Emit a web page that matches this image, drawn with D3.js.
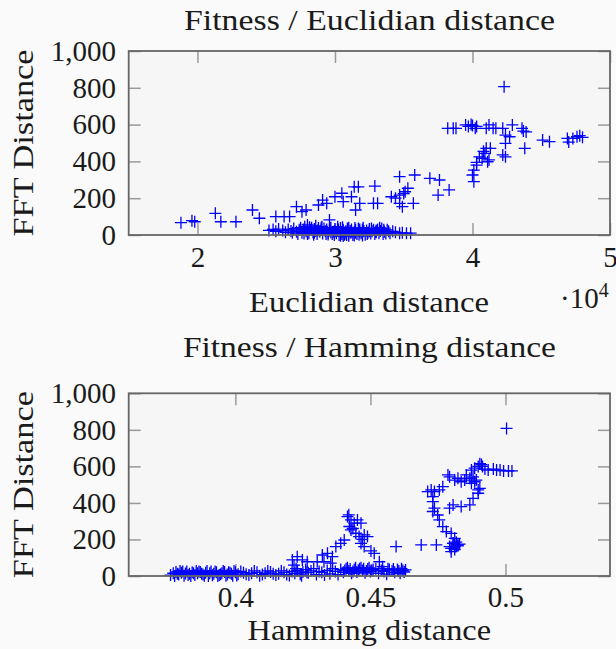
<!DOCTYPE html>
<html>
<head>
<meta charset="utf-8">
<script src="https://cdn.jsdelivr.net/npm/d3@7"></script>
<style>
body { margin: 0; background: #fafafa; }
text { font-family: "Liberation Serif", serif; fill: #1a1a1a; }
</style>
</head>
<body>
<script>
// ---- data ----
var eucTicksX = [2, 3, 4, 5];
var hamTicksX = [0.4, 0.45, 0.5];
var ticksY = [0, 200, 400, 600, 800, 1000];

// euclidian distance (x in units of 10^4), FFT distance
var eucPoints = [
  [1.88,67],[1.96,78],[1.98,72],[2.13,118],[2.17,72],[2.28,72],[2.40,136],[2.45,91],
  [2.57,100],[2.63,100],[2.67,100],[2.72,154],[2.76,127],[2.79,136],[2.88,163],[2.91,190],
  [2.94,172],[2.96,82],[3.00,208],[3.05,227],[3.06,181],[3.12,208],[3.14,262],[3.17,262],
  [3.18,172],[3.15,136],[3.29,266],[3.28,172],[3.31,172],[3.41,208],[3.47,217],[3.51,235],
  [3.53,254],[3.47,172],[3.49,154],[3.57,172],[3.47,317],[3.58,326],[3.69,308],[3.76,299],
  [3.75,217],[3.83,245],[3.50,225],[3.44,200],
  [3.82,580],[3.86,580],[3.88,580],[3.95,598],[3.97,590],[3.99,600],[4.00,595],[4.02,580],
  [4.03,590],[4.10,580],[4.12,598],[4.15,580],[4.17,580],[4.22,580],[4.29,598],[4.36,580],
  [4.37,565],[4.39,560],[4.23,806],
  [4.51,516],[4.56,507],[4.69,525],[4.70,505],[4.73,525],[4.76,534],[4.78,540],[4.80,531],
  [4.24,543],[4.27,534],[4.24,498],[4.22,435],[4.24,425],[4.38,471],
  [4.10,471],[4.13,471],[4.05,425],[4.07,417],[4.09,444],[4.11,398],[4.03,380],[4.01,353],
  [4.00,326],[4.01,290],[4.12,408],[4.03,395],[4.08,455],
  [2.52,25],[2.55,30],[2.57,20],[2.59,32],[2.62,25],[2.64,15],[2.66,30],[2.68,22],[2.70,35],
  [2.72,18],[2.74,28],[2.75,40],[2.76,12],[2.77,30],[2.78,45],[2.79,20],[2.80,35],[2.81,10],
  [2.82,28],[2.83,40],[2.84,15],[2.85,32],[2.86,22],[2.87,5],[2.88,38],[2.89,18],[2.90,28],
  [2.91,8],[2.92,35],[2.93,20],[2.94,30],[2.95,12],[2.96,25],[2.97,40],[2.98,5],[2.99,18],
  [3.00,32],[3.01,10],[3.02,25],[3.03,0],[3.04,38],[3.05,15],[3.06,28],[3.07,2],[3.08,20],
  [3.09,35],[3.10,8],[3.11,22],[3.12,30],[3.13,0],[3.14,15],[3.15,28],[3.16,5],[3.17,35],
  [3.18,18],[3.19,10],[3.20,30],[3.21,22],[3.22,2],[3.23,25],[3.24,12],[3.25,32],[3.26,8],
  [3.27,20],[3.28,28],[3.29,5],[3.30,15],[3.31,30],[3.32,10],[3.33,22],[3.34,35],[3.35,5],
  [3.36,18],[3.38,28],[3.40,10],[3.42,20],[3.44,15],[3.47,10],[3.49,12],[3.52,10],[3.55,10],
  [2.80,5],[2.85,12],[2.90,40],[2.95,3],[3.00,20],[3.05,5],[3.10,40],[3.15,12],[3.20,15],
  [3.25,20],[3.30,25],[3.02,45],[2.97,15],[3.12,18],[3.08,8],[3.18,30],[2.80,55],[2.86,50],
  [2.775,8],[2.815,42],[2.845,2],[2.875,25],[2.905,45],[2.935,6],[2.965,35],[2.995,0],
  [3.025,30],[3.055,42],[3.085,0],[3.115,12],[3.145,38],[3.175,2],[3.205,40],[3.235,5],
  [3.265,35],[3.295,18],[3.325,40],[3.355,28],[3.37,8],[3.39,20],[2.73,5],[2.69,12],
  [3.06,-5],[3.10,-4],[3.14,-3],[3.04,-4],[3.20,-3]
];

// hamming distance, FFT distance
var hamPoints = [
  [0.5004,808],
  [0.4874,580],[0.4886,590],[0.4899,600],[0.4911,610],[0.4924,585],[0.4936,580],[0.4955,585],
  [0.4967,580],[0.4980,580],[0.4993,575],[0.5011,575],[0.5024,575],[0.4905,615],[0.4915,600],
  [0.4855,553],[0.4868,535],[0.4880,543],[0.4892,525],[0.4874,507],[0.4886,516],[0.4905,480],
  [0.4899,453],[0.4849,525],[0.4836,516],[0.4824,535],[0.4812,525],[0.4793,543],[0.4787,553],
  [0.4768,489],[0.4755,471],[0.4737,462],[0.4725,471],[0.4712,462],[0.4731,435],[0.4731,407],
  [0.4737,371],[0.4731,353],[0.4749,334],[0.4755,307],[0.4768,270],[0.4781,243],[0.4799,233],
  [0.4812,206],[0.4806,179],[0.4793,161],[0.4799,151],[0.4824,170],[0.4799,133],
  [0.4793,371],[0.4806,389],[0.4836,380],[0.4868,389],[0.4880,425],[0.4899,471],
  [0.4595,161],[0.4688,170],[0.4744,170],
  [0.4806,179],[0.4812,160],[0.4818,170],[0.4824,165],[0.4812,145],[0.4830,175],[0.4818,185],
  [0.4415,325],[0.4428,307],[0.4440,289],[0.4422,271],[0.4452,307],[0.4465,289],[0.4428,252],
  [0.4446,234],[0.4477,225],[0.4458,216],[0.4489,216],[0.4465,179],[0.4477,161],[0.4502,137],
  [0.4514,124],[0.4533,78],[0.4545,51],[0.4420,335],[0.4435,260],[0.4470,200],
  [0.4211,88],[0.4229,106],[0.4248,88],[0.4266,78],[0.4303,78],[0.4322,115],[0.4341,124],
  [0.4359,106],[0.4372,161],[0.4390,179],[0.4403,197],[0.4353,70],[0.4328,78],[0.4217,60],
  [0.376,5],[0.377,15],[0.378,22],[0.379,8],[0.380,18],[0.381,2],[0.382,25],[0.383,12],
  [0.384,20],[0.385,5],[0.386,15],[0.387,22],[0.388,8],[0.389,18],[0.390,0],[0.391,25],
  [0.392,12],[0.393,20],[0.394,5],[0.395,15],[0.396,22],[0.397,8],[0.398,18],[0.399,2],
  [0.400,20],[0.401,10],[0.403,18],[0.405,5],[0.406,15],[0.408,20],[0.410,8],[0.411,15],
  [0.413,22],[0.415,5],[0.416,12],[0.418,20],[0.419,8],[0.421,25],[0.422,15],[0.423,30],
  [0.424,10],[0.425,22],[0.426,35],[0.427,18],[0.428,28],[0.430,8],[0.432,20],[0.434,30],
  [0.435,12],[0.437,25],[0.439,35],[0.440,20],[0.441,40],[0.442,28],[0.443,15],[0.444,35],
  [0.445,22],[0.446,40],[0.447,30],[0.448,18],[0.449,38],[0.450,25],[0.451,35],[0.453,15],
  [0.455,25],[0.456,10],[0.457,35],[0.458,28],[0.459,20],[0.460,35],[0.461,15],[0.462,30],
  [0.463,33],
  [0.3785,12],[0.3805,25],[0.3825,5],[0.3845,15],[0.3865,25],[0.3885,2],[0.3905,15],
  [0.3925,25],[0.3945,10],[0.3965,2],[0.3985,12],
  [0.3775,0],[0.3795,28],[0.3815,14],[0.3835,0],[0.3855,28],[0.3875,12],[0.3895,28],
  [0.3915,4],[0.3935,0],[0.3955,28],[0.3975,20],[0.3995,28],[0.4005,3],[0.402,25],
  [0.404,10],[0.407,28],[0.409,2],[0.412,28],[0.414,12],[0.417,28],[0.420,3],[0.4225,40],
  [0.4245,2],[0.4265,20],[0.429,40],[0.431,25],[0.433,5],[0.436,40],[0.438,8],[0.4405,30],
  [0.4415,45],[0.4425,38],[0.4435,25],[0.4445,45],[0.4455,32],[0.4465,45],[0.4475,40],
  [0.4485,28],[0.4495,45],[0.4505,30],[0.452,40],[0.454,30],[0.4565,40],[0.4585,38],
  [0.4605,28],[0.4615,40],[0.4625,22]
];

// ---- drawing ----
var W = 616, H = 649;
var svg = d3.select("body").append("svg")
    .attr("width", W)
    .attr("height", H);

var fmtY = d3.format(",");

function panel(opt) {
    var left = 128.7, right = 610;
    var w = right - left, h = opt.bottom - opt.top;

    var x = d3.scaleLinear().domain(opt.domainX).range([0, w]);
    var y = d3.scaleLinear().domain([0, 1000]).range([h, 0]);

    var g = svg.append("g")
        .attr("transform", "translate(" + left + "," + opt.top + ")");

    g.append("rect")
        .attr("width", w).attr("height", h)
        .attr("fill", "#f6f6f6");

    var xb = g.append("g").attr("transform", "translate(0," + h + ")")
        .call(d3.axisBottom(x).tickValues(opt.ticksX).tickSize(-12).tickFormat(opt.fmtX));
    var xt = g.append("g")
        .call(d3.axisTop(x).tickValues(opt.ticksX).tickSize(-12).tickFormat(""));
    var yl = g.append("g")
        .call(d3.axisLeft(y).tickValues(ticksY).tickSize(-12).tickPadding(12.7).tickFormat(fmtY));
    var yr = g.append("g").attr("transform", "translate(" + w + ",0)")
        .call(d3.axisRight(y).tickValues(ticksY).tickSize(-12).tickFormat(""));

    [xb, xt, yl, yr].forEach(function(a) {
        a.attr("font-family", null).attr("font-size", null);
        a.select(".domain").remove();
        a.selectAll(".tick line").attr("stroke", "#9a9a9a").attr("stroke-width", 1.5);
        a.selectAll("text").attr("font-size", 29).attr("fill", "#1a1a1a");
    });
    xb.selectAll("text").attr("y", opt.xLabelY).attr("dy", null);

    // points
    g.append("g").selectAll("path")
        .data(opt.points)
        .enter().append("path")
        .attr("d", "M-6,0H6M0,-6V6")
        .attr("transform", function(d) { return "translate(" + x(d[0]) + "," + y(d[1]) + ")"; })
        .attr("stroke", "#0000ff")
        .attr("stroke-width", 1.3)
        .attr("fill", "none");

    g.append("rect")
        .attr("width", w).attr("height", h)
        .attr("fill", "none").attr("stroke", "#666").attr("stroke-width", 1.8);

    // title
    svg.append("text")
        .attr("x", opt.titleX).attr("y", opt.titleY)
        .attr("text-anchor", "middle").attr("font-size", 30)
        .attr("textLength", opt.titleLen).attr("lengthAdjust", "spacingAndGlyphs")
        .text(opt.title);

    // x label
    svg.append("text")
        .attr("x", opt.xLabX).attr("y", opt.xLabY)
        .attr("text-anchor", "middle").attr("font-size", 30)
        .attr("textLength", opt.xLabLen).attr("lengthAdjust", "spacingAndGlyphs")
        .text(opt.xLabel);

    // y label
    svg.append("text")
        .attr("transform", "translate(33," + (opt.top + h / 2) + ") rotate(-90)")
        .attr("text-anchor", "middle").attr("font-size", 30)
        .attr("textLength", 187).attr("lengthAdjust", "spacingAndGlyphs")
        .text("FFT Distance");
}

panel({
    top: 51, bottom: 235,
    domainX: [1.5, 5], ticksX: eucTicksX, fmtX: d3.format("d"),
    points: eucPoints, xLabelY: 31.7,
    title: "Fitness / Euclidian distance", titleX: 369.5, titleY: 30, titleLen: 371,
    xLabel: "Euclidian distance", xLabX: 369, xLabY: 312, xLabLen: 240
});

panel({
    top: 393.3, bottom: 576,
    domainX: [0.3605, 0.5387], ticksX: hamTicksX, fmtX: function(d) { return String(d); },
    points: hamPoints, xLabelY: 30.7,
    title: "Fitness / Hamming distance", titleX: 369.4, titleY: 356.7, titleLen: 373,
    xLabel: "Hamming distance", xLabX: 369.3, xLabY: 640, xLabLen: 243.5
});

// x10^4 scale factor of the upper plot
var sf = svg.append("text").attr("x", 560).attr("y", 308).attr("font-size", 29);
sf.append("tspan").text("\u00b710");
sf.append("tspan").attr("font-size", 20).attr("dy", -11).text("4");
</script>
</body>
</html>
